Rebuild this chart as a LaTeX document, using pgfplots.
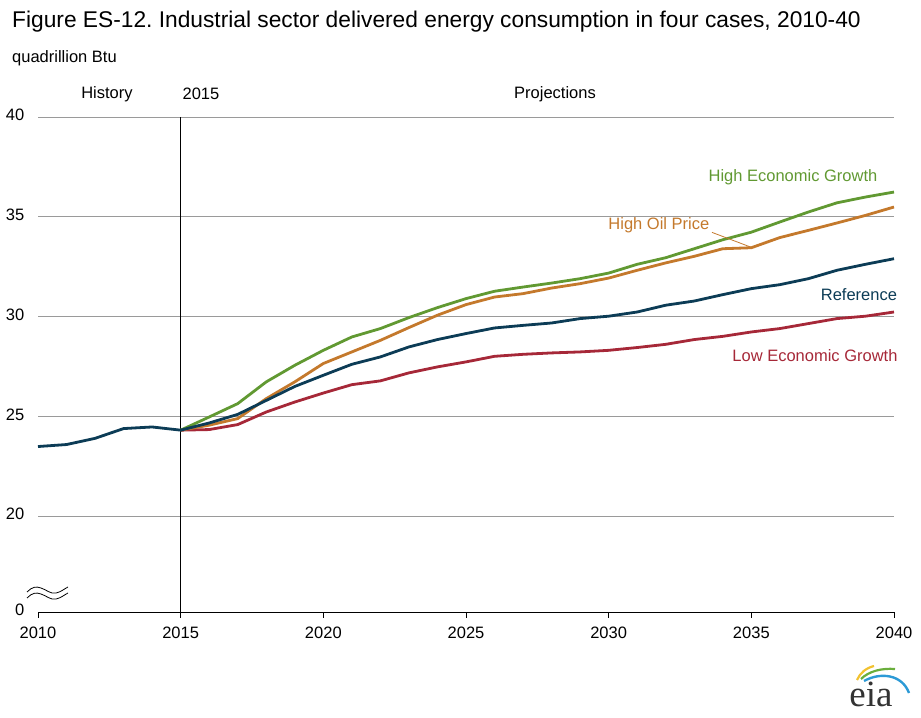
\documentclass[border=0pt]{standalone}
\usepackage{pgfplots}
\pgfplotsset{compat=1.18}
\usepackage{fontspec}
\setmainfont{Liberation Sans}
\newfontfamily\seriffont{Liberation Serif}
\definecolor{cgreen}{HTML}{619932}
\definecolor{corange}{HTML}{C4792C}
\definecolor{cnavy}{HTML}{0C3C56}
\definecolor{cred}{HTML}{A62838}
\definecolor{cgrid}{HTML}{9A9A9A}
\definecolor{lyellow}{HTML}{F2C230}
\definecolor{lgreen}{HTML}{6AAE3C}
\definecolor{lblue}{HTML}{2C9AD6}
\frenchspacing
\begin{document}
\begin{tikzpicture}
\useasboundingbox (0,0) rectangle (921bp,718bp);
\fontsize{16.5bp}{19bp}\selectfont
\node[anchor=base west, inner sep=0pt] at (12bp,690bp) {\fontsize{22.75bp}{26bp}\selectfont Figure ES-12. Industrial sector delivered energy consumption in four cases, 2010-40};
\node[anchor=west, inner sep=0pt] at (12bp,660bp) {quadrillion Btu};
\node[inner sep=0pt] at (107bp,624bp) {History};
\node[inner sep=0pt] at (201bp,624bp) {2015};
\node[inner sep=0pt] at (555bp,624bp) {Projections};
\begin{axis}[
  anchor=south west, at={(38bp,106bp)},
  scale only axis, width=856bp, height=495bp,
  xmin=2010, xmax=2040, ymin=15.2, ymax=40,
  axis x line*=bottom, axis y line*=left,
  y axis line style={draw=none},
  x axis line style={black, line width=0.9bp, -},
  xtick={2010,2015,...,2040},
  xticklabel style={/pgf/number format/1000 sep={}, yshift=-3bp},
  /pgf/number format/assume math mode=true,
  tick align=outside, major tick length=6bp,
  xtick style={black, line width=0.9bp},
  ytick={15.2,20,25,30,35,40},
  yticklabels={0,20,25,30,35,40},
  ytick style={draw=none},
  yticklabel style={anchor=east, xshift=-2bp, yshift=2bp},
  ymajorgrids, grid style={cgrid, line width=0.9bp},
  tick label style={font=\fontsize{16.5bp}{19bp}\selectfont},
  clip=false,
]
\addplot[black, line width=0.8bp] coordinates {(2015,15.2) (2015,40)};
\addplot[cred, line width=2.8bp] coordinates {
(2015,24.31)(2016,24.34)(2017,24.59)(2018,25.22)(2019,25.72)(2020,26.17)(2021,26.59)(2022,26.78)(2023,27.18)(2024,27.48)(2025,27.73)(2026,28.01)(2027,28.11)(2028,28.18)(2029,28.23)(2030,28.31)(2031,28.45)(2032,28.61)(2033,28.85)(2034,29.01)(2035,29.23)(2036,29.40)(2037,29.65)(2038,29.90)(2039,30.02)(2040,30.23)};
\addplot[corange, line width=2.8bp] coordinates {
(2015,24.31)(2016,24.56)(2017,24.89)(2018,25.89)(2019,26.73)(2020,27.65)(2021,28.23)(2022,28.81)(2023,29.45)(2024,30.07)(2025,30.60)(2026,30.98)(2027,31.15)(2028,31.43)(2029,31.65)(2030,31.93)(2031,32.32)(2032,32.69)(2033,33.02)(2034,33.40)(2035,33.45)(2036,33.96)(2037,34.32)(2038,34.69)(2039,35.07)(2040,35.49)};
\addplot[cgreen, line width=2.8bp] coordinates {
(2015,24.31)(2016,24.97)(2017,25.64)(2018,26.73)(2019,27.56)(2020,28.31)(2021,28.98)(2022,29.40)(2023,29.95)(2024,30.45)(2025,30.90)(2026,31.27)(2027,31.48)(2028,31.68)(2029,31.90)(2030,32.18)(2031,32.62)(2032,32.95)(2033,33.40)(2034,33.85)(2035,34.23)(2036,34.74)(2037,35.24)(2038,35.70)(2039,35.99)(2040,36.24)};
\addplot[cnavy, line width=2.8bp] coordinates {
(2010,23.49)(2011,23.59)(2012,23.90)(2013,24.39)(2014,24.47)(2015,24.31)(2016,24.67)(2017,25.10)(2018,25.80)(2019,26.50)(2020,27.06)(2021,27.61)(2022,27.98)(2023,28.48)(2024,28.85)(2025,29.15)(2026,29.43)(2027,29.56)(2028,29.68)(2029,29.90)(2030,30.02)(2031,30.23)(2032,30.57)(2033,30.78)(2034,31.10)(2035,31.40)(2036,31.60)(2037,31.90)(2038,32.32)(2039,32.62)(2040,32.90)};
\draw[corange, line width=0.8bp] (axis cs:2033.62,34.22) -- (axis cs:2035.0,33.47);
\node[cgreen] at (axis cs:2036.46,36.98) {High Economic Growth};
\node[corange] at (axis cs:2031.76,34.57) {High Oil Price};
\node[cnavy] at (axis cs:2038.77,31.12) {Reference};
\node[cred] at (axis cs:2037.23,28.06) {Low Economic Growth};
\end{axis}
% axis break symbol
\draw[black, line width=0.8bp] (27bp,126bp) .. controls (32bp,131bp) and (36bp,132bp) .. (41bp,130bp) .. controls (47bp,128bp) and (50bp,124bp) .. (56bp,125bp) .. controls (61bp,126bp) and (64bp,129bp) .. (68bp,131bp);
\draw[black, line width=0.8bp] (27bp,120bp) .. controls (32bp,125bp) and (36bp,126bp) .. (41bp,124bp) .. controls (47bp,122bp) and (50bp,118bp) .. (56bp,119bp) .. controls (61bp,120bp) and (64bp,123bp) .. (68bp,125bp);
% eia logo
\node[anchor=base, inner sep=0pt, text=black!80] at (871bp,12bp) {\seriffont\fontsize{37bp}{38bp}\selectfont eia};
\draw[lyellow, line width=2.2bp] (857bp,38bp) .. controls (860bp,45bp) and (866bp,50bp) .. (874bp,52bp);
\draw[lgreen, line width=2.2bp] (861bp,39bp) .. controls (869bp,47bp) and (882bp,50bp) .. (895bp,49bp);
\draw[lblue, line width=2.4bp] (864bp,37bp) .. controls (880bp,46bp) and (902bp,44bp) .. (909bp,25bp);
\end{tikzpicture}
\end{document}
